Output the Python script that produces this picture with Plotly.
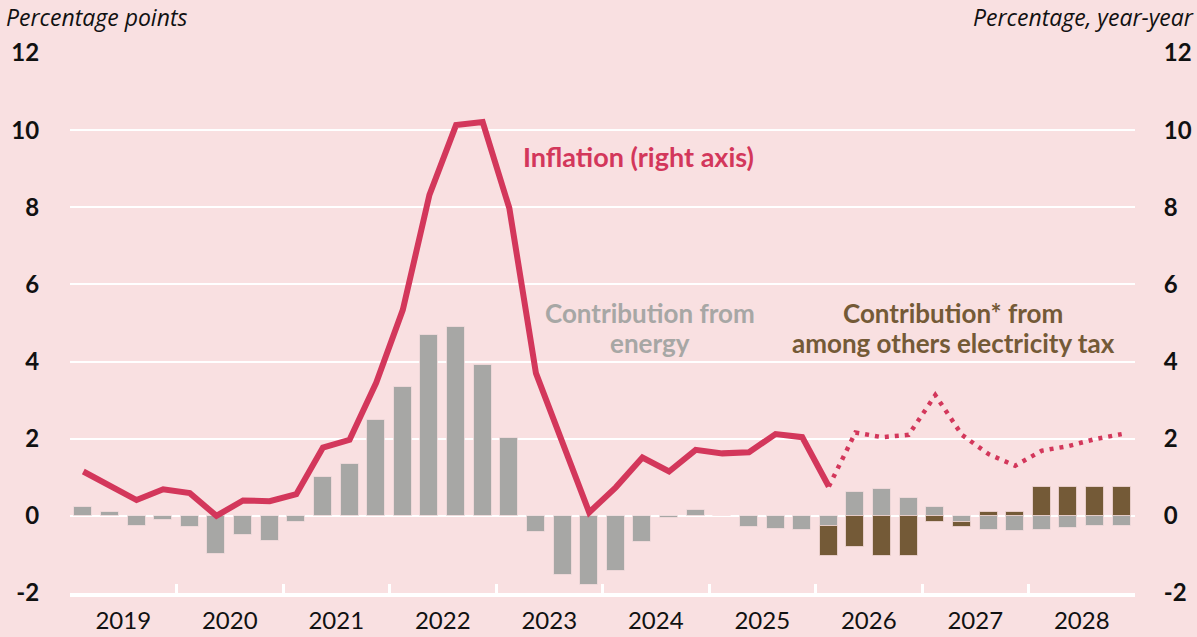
import plotly.graph_objects as go

years = ["2019", "2020", "2021", "2022", "2023", "2024", "2025", "2026", "2027", "2028"]
quarters = [f"{y} Q{q}" for y in years for q in range(1, 5)]

energy = [0.22, 0.10, -0.25, -0.11, -0.28, -0.98, -0.49, -0.64,
          -0.15, 1.02, 1.35, 2.49, 3.35, 4.70, 4.90, 3.90,
          2.02, -0.43, -1.54, -1.80, -1.43, -0.67, -0.06, 0.14,
          0.00, -0.30, -0.34, -0.37, -0.25, 0.62, 0.69, 0.46,
          0.24, -0.16, -0.36, -0.39, -0.36, -0.31, -0.26, -0.26]

tax = [None] * 28 + [-0.80, -0.80, -1.05, -1.05, -0.15, -0.14, 0.10, 0.10,
                     0.75, 0.76, 0.75, 0.74]

inflation_actual = [1.15, 0.76, 0.41, 0.69, 0.59, 0.00, 0.40, 0.38,
                    0.56, 1.77, 1.97, 3.45, 5.34, 8.32, 10.13, 10.21,
                    7.98, 3.70, 1.93, 0.09, 0.74, 1.51, 1.15, 1.71,
                    1.62, 1.65, 2.12, 2.04, 0.76]
inflation_forecast = [None] * 28 + [0.76, 2.16, 2.04, 2.10, 3.13, 2.10, 1.60, 1.30,
                                    1.69, 1.81, 1.99, 2.12]

y_ticks = [-2, 0, 2, 4, 6, 8, 10, 12]
y_ticktext = [str(v) for v in y_ticks]

BG = "#F9E0E1"
GRAY = "#A7A7A5"
BROWN = "#745A37"
RED = "#D3375B"
FONT = "Lato"

W, H = 1197, 637
ML, MR, MT, MB = 70, 62, 53, 44
PW, PH = W - ML - MR, H - MT - MB


def px(xp):
    return (xp - ML) / PW


def py(yp):
    return (H - MB - yp) / PH


idx = list(range(len(quarters)))
year_centers = [i * 4 + 1.5 for i in range(len(years))]
year_bounds = [i * 4 - 0.5 for i in range(len(years) + 1)]

fig = go.Figure()
fig.add_trace(go.Bar(x=idx, y=energy, marker=dict(color=GRAY, line=dict(color="rgba(249,224,225,0.7)", width=1)),
                     width=0.68, name="Energy", hovertext=quarters))
fig.add_trace(go.Bar(x=idx, y=tax, marker=dict(color=BROWN, line=dict(color="rgba(249,224,225,0.7)", width=1)),
                     width=0.68, name="Electricity tax", hovertext=quarters))
fig.add_trace(go.Scatter(x=idx, y=inflation_actual, mode="lines", yaxis="y2",
                         line=dict(color=RED, width=6), name="Inflation", hovertext=quarters))
fig.add_trace(go.Scatter(x=idx, y=inflation_forecast, mode="lines", yaxis="y2",
                         line=dict(color=RED, width=4.5, dash="4px,6px"), name="Inflation forecast",
                         hovertext=quarters))
# invisible trace to carry the boundary tick axis
fig.add_trace(go.Scatter(x=[year_bounds[0], year_bounds[-1]], y=[None, None], xaxis="x2",
                         mode="lines", showlegend=False, hoverinfo="skip"))

fig.update_layout(
    width=W, height=H,
    paper_bgcolor=BG, plot_bgcolor=BG,
    barmode="relative", bargap=0,
    showlegend=False,
    margin=dict(l=ML, r=MR, t=MT, b=MB),
    xaxis=dict(range=[-0.5, 39.5], tickmode="array", tickvals=year_centers, ticktext=years,
               showgrid=False, zeroline=False, ticks="outside", ticklen=3, tickcolor="rgba(0,0,0,0)",
               showline=True, linecolor="white", linewidth=4, automargin=False,
               tickfont=dict(family=FONT, size=24, color="#111111")),
    xaxis2=dict(range=[-0.5, 39.5], overlaying="x", anchor="y", side="bottom",
                tickmode="array", tickvals=year_bounds, ticks="inside", ticklen=9,
                tickwidth=3, tickcolor="white", showticklabels=False, automargin=False,
                showgrid=False, zeroline=False, showline=False),
    yaxis=dict(range=[-2, 12], tickmode="array", tickvals=y_ticks, ticktext=y_ticktext,
               showgrid=True, gridcolor="white", gridwidth=1.5, automargin=False,
               zeroline=False, ticks="outside", ticklen=25, tickcolor="rgba(0,0,0,0)",
               tickfont=dict(family=FONT, size=24, color="#111111", weight="bold")),
    yaxis2=dict(range=[-2, 12], tickmode="array", tickvals=y_ticks, ticktext=y_ticktext,
                overlaying="y", side="right", showgrid=False, automargin=False,
                zeroline=False, ticks="outside", ticklen=23, tickcolor="rgba(0,0,0,0)",
                tickfont=dict(family=FONT, size=24, color="#111111", weight="bold")),
    annotations=[
        dict(text="Percentage points", xref="paper", yref="paper", x=px(4), y=py(17),
             xanchor="left", yanchor="middle", showarrow=False,
             font=dict(family="Open Sans", size=23, color="#111111", style="italic")),
        dict(text="Percentage, year-year", xref="paper", yref="paper", x=px(1196), y=py(17),
             xanchor="right", yanchor="middle", showarrow=False,
             font=dict(family="Open Sans", size=23, color="#111111", style="italic")),
        dict(text="<b>Inflation (right axis)</b>", xref="paper", yref="paper", x=px(638),
             y=py(157), xanchor="center", yanchor="middle", showarrow=False,
             font=dict(family=FONT, size=27, color=RED)),
        dict(text="<b>Contribution from</b>", xref="paper", yref="paper", x=px(650),
             y=py(313), xanchor="center", yanchor="middle", showarrow=False,
             font=dict(family=FONT, size=26, color=GRAY)),
        dict(text="<b>energy</b>", xref="paper", yref="paper", x=px(650),
             y=py(343), xanchor="center", yanchor="middle", showarrow=False,
             font=dict(family=FONT, size=26, color=GRAY)),
        dict(text="<b>Contribution* from</b>", xref="paper", yref="paper",
             x=px(953), y=py(313), xanchor="center", yanchor="middle",
             showarrow=False, font=dict(family=FONT, size=26, color=BROWN)),
        dict(text="<b>among others electricity tax</b>", xref="paper", yref="paper",
             x=px(953), y=py(343), xanchor="center", yanchor="middle",
             showarrow=False, font=dict(family=FONT, size=26, color=BROWN)),
    ],
)

fig.write_html("out.html", config={"displayModeBar": False},
               post_script="document.body.style.margin='0';")
